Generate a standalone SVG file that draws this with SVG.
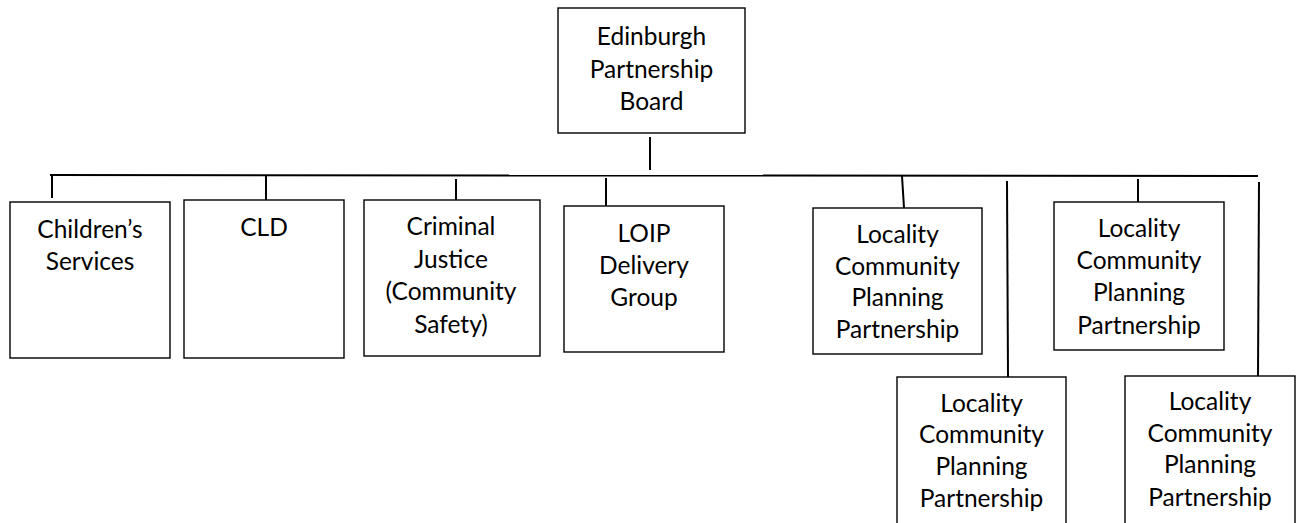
<svg xmlns="http://www.w3.org/2000/svg" width="1298" height="523" viewBox="0 0 1298 523">
<style>
.box{fill:#fff;stroke:#000;stroke-width:1.4}
.lbl{font-family:Lato,"Liberation Sans",sans-serif;font-size:24.5px;fill:#000;text-anchor:middle}
.con{stroke:#000;stroke-width:2;fill:none}
</style>
<rect width="1298" height="523" fill="#fff"/>
<g id="connectors">
<line class="con" x1="650" y1="137" x2="650" y2="170"/>
<line class="con" x1="50" y1="175" x2="1258" y2="176"/>
<line class="con" x1="52" y1="175" x2="52" y2="198"/>
<line class="con" x1="266" y1="175" x2="266" y2="200"/>
<line class="con" x1="456" y1="179" x2="456" y2="200"/>
<line class="con" x1="606" y1="178" x2="606" y2="206"/>
<line class="con" x1="902" y1="176" x2="904" y2="208"/>
<line class="con" x1="1007" y1="181" x2="1008" y2="377"/>
<line class="con" x1="1138" y1="179" x2="1138" y2="202"/>
<line class="con" x1="1259" y1="182" x2="1258" y2="376"/>
</g>
<g id="board">
<rect class="box" x="558" y="8" width="187" height="125"/>
<text class="lbl"><tspan x="651.5" y="45">Edinburgh</tspan><tspan x="651.5" y="77.5">Partnership</tspan><tspan x="651.5" y="110">Board</tspan></text>
</g>
<g id="childrens">
<rect class="box" x="10" y="202" width="160" height="156"/>
<text class="lbl"><tspan x="90" y="238">Children’s</tspan><tspan x="90" y="270">Services</tspan></text>
</g>
<g id="cld">
<rect class="box" x="184" y="200" width="160" height="158"/>
<text class="lbl"><tspan x="264" y="236">CLD</tspan></text>
</g>
<g id="criminal">
<rect class="box" x="364" y="200" width="176" height="156"/>
<text class="lbl"><tspan x="451" y="235">Criminal</tspan><tspan x="451" y="268">Justice</tspan><tspan x="451" y="300">(Community</tspan><tspan x="451" y="333">Safety)</tspan></text>
</g>
<g id="loip">
<rect class="box" x="564" y="206" width="160" height="146"/>
<text class="lbl"><tspan x="644" y="242">LOIP</tspan><tspan x="644" y="274">Delivery</tspan><tspan x="644" y="306">Group</tspan></text>
</g>
<g id="locality1">
<rect class="box" x="813" y="208" width="169" height="146"/>
<text class="lbl"><tspan x="897.5" y="243">Locality</tspan><tspan x="897.5" y="275">Community</tspan><tspan x="897.5" y="306">Planning</tspan><tspan x="897.5" y="338">Partnership</tspan></text>
</g>
<g id="locality2">
<rect class="box" x="1054" y="202" width="170" height="148"/>
<text class="lbl"><tspan x="1139" y="237">Locality</tspan><tspan x="1139" y="269">Community</tspan><tspan x="1139" y="301">Planning</tspan><tspan x="1139" y="334">Partnership</tspan></text>
</g>
<g id="locality3">
<rect class="box" x="897" y="377" width="169" height="160"/>
<text class="lbl"><tspan x="981.5" y="412">Locality</tspan><tspan x="981.5" y="443">Community</tspan><tspan x="981.5" y="475">Planning</tspan><tspan x="981.5" y="507">Partnership</tspan></text>
</g>
<g id="locality4">
<rect class="box" x="1125" y="376" width="170" height="160"/>
<text class="lbl"><tspan x="1210" y="410">Locality</tspan><tspan x="1210" y="442">Community</tspan><tspan x="1210" y="473">Planning</tspan><tspan x="1210" y="506">Partnership</tspan></text>
</g>
</svg>
